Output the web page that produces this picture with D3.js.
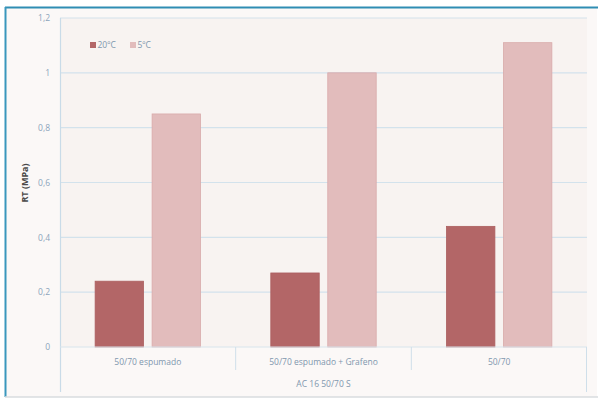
<!DOCTYPE html>
<html>
<head>
<meta charset="utf-8">
<script src="https://cdn.jsdelivr.net/npm/d3@7"></script>
<style>
  html, body { margin: 0; padding: 0; background: #ffffff; }
  svg { display: block; }
</style>
</head>
<body>
<div id="chart"></div>
<script>
// datos del gráfico
const categories = ["50/70 espumado", "50/70 espumado + Grafeno", "50/70"];
const groupLabel = "AC 16 50/70 S";
const seriesNames = ["20ºC", "5ºC"];
const values20 = [0.24, 0.27, 0.44];
const values5 = [0.85, 1.0, 1.11];
const yTicks = [0, 0.2, 0.4, 0.6, 0.8, 1, 1.2];
const yTitle = "RT (MPa)";

const W = 598, H = 400;
const margin = { top: 18, right: 11, bottom: 53, left: 60 };
const colors = ["#b36667", "#e2bcbc"];

const svg = d3.select("#chart").append("svg")
    .attr("width", W)
    .attr("height", H);

// fondo y marco
svg.append("rect")
    .attr("x", 0).attr("y", 0).attr("width", W).attr("height", H)
    .attr("fill", "#ffffff");
svg.append("rect")
    .attr("x", 6).attr("y", 8).attr("width", W - 7).attr("height", H - 11)
    .attr("fill", "#fbf8f7")
    .attr("stroke", "none");
svg.append("line")
    .attr("x1", 5).attr("x2", W).attr("y1", 7.5).attr("y2", 7.5)
    .attr("stroke", "#2f8db3").attr("stroke-width", 2);
svg.append("line")
    .attr("x1", 5.5).attr("x2", 5.5).attr("y1", 7).attr("y2", H - 3)
    .attr("stroke", "#3a97bd").attr("stroke-width", 2);
svg.append("line")
    .attr("x1", 5).attr("x2", W).attr("y1", H - 3).attr("y2", H - 3)
    .attr("stroke", "#d9dcdf").attr("stroke-width", 1.5);

const plotW = 587 - margin.left;
const plotH = 347 - margin.top;

const g = svg.append("g").attr("transform", `translate(${margin.left},${margin.top})`);

// escalas
const y = d3.scaleLinear().domain([0, 1.2]).range([plotH, 0]);
const x0 = d3.scaleBand().domain(categories).range([0, plotW]).paddingInner(0).paddingOuter(0);
const side = x0.bandwidth() * 0.2;
const x1 = d3.scaleBand().domain(seriesNames).range([side, x0.bandwidth() - side]).paddingInner(0.15);

g.append("rect")
    .attr("width", plotW).attr("height", plotH)
    .attr("fill", "#f8f3f1");

// rejilla
g.append("g")
    .selectAll("line")
    .data(yTicks.slice(1))
    .enter().append("line")
    .attr("x1", 0).attr("x2", plotW)
    .attr("y1", d => y(d)).attr("y2", d => y(d))
    .attr("stroke", "#d3e2ec").attr("stroke-width", 1.2);

// eje Y
const yAxis = g.append("g")
    .call(d3.axisLeft(y).tickValues(yTicks).tickSize(0).tickPadding(10)
        .tickFormat(d => String(d).replace(".", ",")));
yAxis.select(".domain").remove();
yAxis.selectAll("text")
    .attr("fill", "#8ba4bb")
    .style("font-family", "Open Sans, sans-serif")
    .style("font-size", "8.5px");

g.append("line")
    .attr("x1", 0.5).attr("x2", 0.5).attr("y1", 0).attr("y2", 392 - margin.top)
    .attr("stroke", "#c9dbe8").attr("stroke-width", 1.2);

g.append("text")
    .attr("transform", `translate(${26 - margin.left},${183 - margin.top}) rotate(-90)`)
    .attr("text-anchor", "middle")
    .attr("dominant-baseline", "middle")
    .attr("fill", "#4a4a4a")
    .style("font-family", "Open Sans, sans-serif")
    .style("font-weight", "bold")
    .style("font-size", "9px")
    .text(yTitle);

// barras
const rows = categories.map((c, i) => ({ cat: c, vals: [values20[i], values5[i]] }));
const groups = g.selectAll(".grupo")
    .data(rows)
    .enter().append("g")
    .attr("class", "grupo")
    .attr("transform", d => `translate(${x0(d.cat)},0)`);

groups.selectAll("rect")
    .data(d => d.vals.map((v, k) => ({ serie: seriesNames[k], v: v, k: k })))
    .enter().append("rect")
    .attr("x", d => x1(d.serie))
    .attr("width", x1.bandwidth())
    .attr("y", d => y(d.v))
    .attr("height", d => plotH - y(d.v))
    .attr("fill", d => colors[d.k])
    .attr("stroke", d => d.k === 1 ? "#d9aaab" : "#ac5f60")
    .attr("stroke-width", 0.8);

// eje X de dos niveles
g.append("line")
    .attr("x1", 0).attr("x2", plotW).attr("y1", plotH).attr("y2", plotH)
    .attr("stroke", "#d8e4ec").attr("stroke-width", 1);

const seps = [x0(categories[1]), x0(categories[2])];
g.selectAll(".sep")
    .data(seps)
    .enter().append("line")
    .attr("class", "sep")
    .attr("x1", d => d).attr("x2", d => d)
    .attr("y1", plotH).attr("y2", plotH + 23)
    .attr("stroke", "#cfdfea").attr("stroke-width", 1);

g.append("line")
    .attr("x1", plotW - 0.5).attr("x2", plotW - 0.5)
    .attr("y1", plotH).attr("y2", 392 - margin.top)
    .attr("stroke", "#cfdfea").attr("stroke-width", 1);

g.selectAll(".catlabel")
    .data(categories)
    .enter().append("text")
    .attr("class", "catlabel")
    .attr("x", d => x0(d) + x0.bandwidth() / 2)
    .attr("y", plotH + 16)
    .attr("dominant-baseline", "middle")
    .attr("text-anchor", "middle")
    .attr("fill", "#7f97ae")
    .style("font-family", "Open Sans, sans-serif")
    .style("font-size", "8.5px")
    .text(d => d);

g.append("text")
    .attr("x", plotW / 2)
    .attr("y", 385 - margin.top)
    .attr("dominant-baseline", "middle")
    .attr("text-anchor", "middle")
    .attr("fill", "#7f97ae")
    .style("font-family", "Open Sans, sans-serif")
    .style("font-size", "8.5px")
    .text(groupLabel);

// leyenda
const legend = svg.append("g").attr("transform", "translate(90,45)");
const items = legend.selectAll("g")
    .data(seriesNames)
    .enter().append("g")
    .attr("transform", (d, i) => `translate(${i * 40},0)`);
items.append("rect")
    .attr("x", 0).attr("y", -3).attr("width", 6).attr("height", 6)
    .attr("fill", (d, i) => colors[i]);
items.append("text")
    .attr("x", 7.5).attr("y", 0.5)
    .attr("dominant-baseline", "middle")
    .attr("fill", "#7f97ae")
    .style("font-family", "Open Sans, sans-serif")
    .style("font-size", "8.5px")
    .text(d => d);
</script>
</body>
</html>
